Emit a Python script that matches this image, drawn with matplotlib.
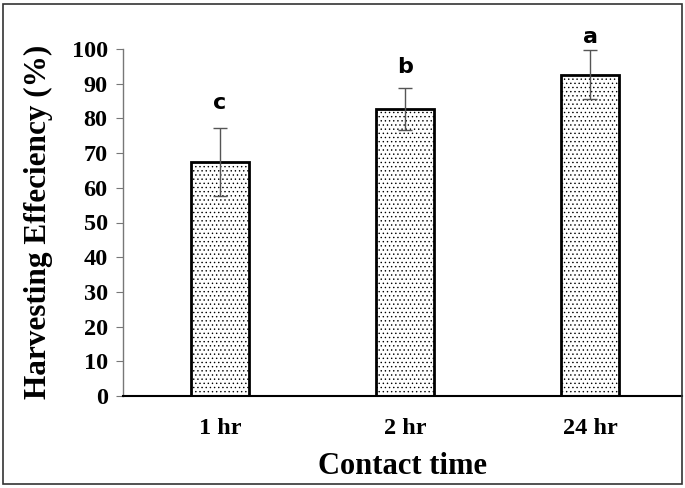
import matplotlib
matplotlib.use("Agg")
import matplotlib.pyplot as plt
from matplotlib.patches import Rectangle

categories = ["1 hr", "2 hr", "24 hr"]
values = [67.5, 82.7, 92.6]
errors = [9.8, 6.0, 7.0]
letters = ["c", "b", "a"]
letter_y = [84.4, 94.8, 103.5]
yticks = [0, 10, 20, 30, 40, 50, 60, 70, 80, 90, 100]

plt.rcParams['hatch.color'] = '#c4c4c4'
plt.rcParams['hatch.linewidth'] = 0.5

fig = plt.figure(figsize=(6.85, 4.88), dpi=100)
ax = fig.add_axes([123/685, 1-396/488, (682-123)/685, (396-49)/488])

x = list(range(len(categories)))
ax.bar(x, values, width=0.31, facecolor='white', edgecolor='black',
       linewidth=2.0, hatch='....', zorder=2)
ax.errorbar(x, values, yerr=errors, fmt='none', ecolor='#555555',
            elinewidth=1.0, capsize=5, capthick=1.0, zorder=3)
for xi, ly, l in zip(x, letter_y, letters):
    ax.text(xi, ly, l, ha='center', va='center', fontsize=16,
            fontweight='bold', family='DejaVu Sans', clip_on=False)

ax.set_xlim(-0.524, 2.497)
ax.set_ylim(0, 100)
ax.set_yticks(yticks)
ax.set_xticks(x)
ax.set_xticklabels(categories)
for lbl in ax.get_yticklabels() + ax.get_xticklabels():
    lbl.set_fontfamily('Liberation Serif')
    lbl.set_fontweight('bold')
    lbl.set_fontsize(17.5)
ax.tick_params(axis='y', direction='out', length=5, color='#777777', pad=6)
ax.tick_params(axis='x', length=0, pad=16)
ax.spines['top'].set_visible(False)
ax.spines['right'].set_visible(False)
ax.spines['left'].set_color('#777777')
ax.spines['left'].set_linewidth(1.0)
ax.spines['bottom'].set_linewidth(1.5)
ax.spines['bottom'].set_color('black')

fig.text(38/685, 1-222/488, "Harvesting Effeciency (%)", rotation=90,
         ha='center', va='center', fontsize=22.5, fontweight='bold',
         family='Liberation Serif')
fig.text(403/685, 1-466/488, "Contact time", ha='center', va='center',
         fontsize=22, fontweight='bold', family='Liberation Serif')

fig.patches.append(Rectangle((3/685, 4/488), (682-3)/685, (484-4)/488,
                             transform=fig.transFigure, fill=False,
                             edgecolor='#333333', linewidth=1.2))

fig.savefig("out.png", dpi=100)
